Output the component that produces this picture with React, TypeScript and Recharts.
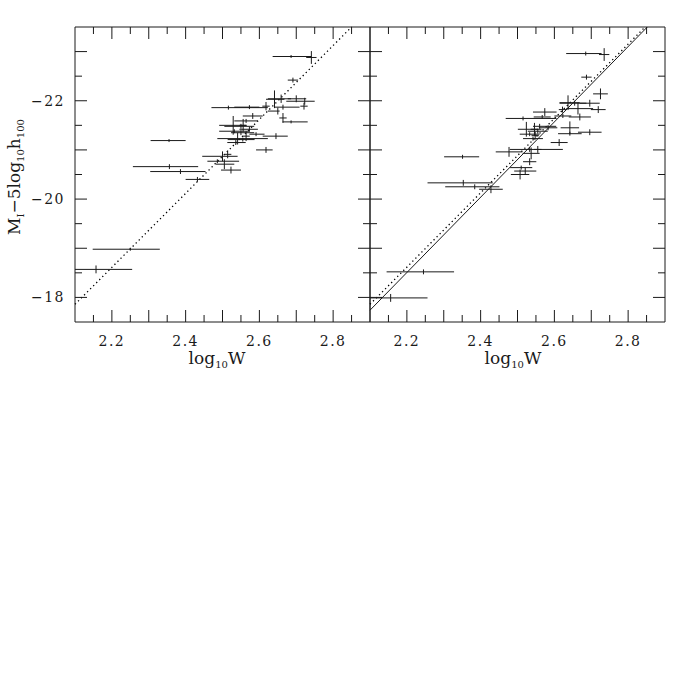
import { ErrorBar, ReferenceArea, ReferenceLine, Scatter, ScatterChart, XAxis, YAxis } from 'recharts'

// [log10 W, magnitude, x error minus, x error plus, y error]
const leftPoints: number[][] = [
  [2.686, -22.9, 0.05, 0.055, 0.03],
  [2.741, -22.88, 0.014, 0.014, 0.13],
  [2.691, -22.42, 0.014, 0.014, 0.05],
  [2.641, -22.03, 0.023, 0.027, 0.18],
  [2.659, -22.04, 0.036, 0.027, 0.085],
  [2.7, -22.04, 0.023, 0.027, 0.07],
  [2.723, -21.99, 0.05, 0.027, 0.07],
  [2.721, -21.89, 0.01, 0.01, 0.07],
  [2.664, -21.87, 0.023, 0.045, 0.05],
  [2.516, -21.86, 0.046, 0.107, 0.04],
  [2.573, -21.87, 0.041, 0.027, 0.04],
  [2.618, -21.89, 0.01, 0.01, 0.085],
  [2.65, -21.79, 0.027, 0.005, 0.07],
  [2.582, -21.69, 0.027, 0.027, 0.06],
  [2.664, -21.65, 0.01, 0.01, 0.1],
  [2.686, -21.57, 0.023, 0.045, 0.03],
  [2.564, -21.59, 0.032, 0.032, 0.04],
  [2.529, -21.5, 0.038, 0.035, 0.19],
  [2.55, -21.48, 0.045, 0.036, 0.05],
  [2.556, -21.5, 0.01, 0.01, 0.13],
  [2.573, -21.42, 0.027, 0.023, 0.05],
  [2.532, -21.38, 0.041, 0.041, 0.04],
  [2.55, -21.35, 0.027, 0.036, 0.05],
  [2.564, -21.28, 0.01, 0.01, 0.1],
  [2.591, -21.32, 0.018, 0.023, 0.04],
  [2.541, -21.23, 0.055, 0.082, 0.12],
  [2.555, -21.21, 0.041, 0.032, 0.04],
  [2.536, -21.15, 0.023, 0.027, 0.05],
  [2.645, -21.28, 0.036, 0.032, 0.06],
  [2.618, -21.0, 0.027, 0.018, 0.06],
  [2.355, -21.19, 0.05, 0.045, 0.03],
  [2.5, -20.87, 0.055, 0.041, 0.1],
  [2.514, -20.91, 0.01, 0.01, 0.08],
  [2.486, -20.77, 0.027, 0.059, 0.04],
  [2.505, -20.71, 0.023, 0.027, 0.1],
  [2.523, -20.59, 0.027, 0.027, 0.07],
  [2.356, -20.66, 0.099, 0.078, 0.05],
  [2.386, -20.56, 0.082, 0.068, 0.05],
  [2.432, -20.4, 0.032, 0.032, 0.05],
  [2.25, -18.98, 0.102, 0.08, 0.03],
  [2.157, -18.57, 0.057, 0.098, 0.08],
]

const rightPoints: number[][] = [
  [2.685, -22.96, 0.053, 0.043, 0.04],
  [2.735, -22.94, 0.014, 0.014, 0.13],
  [2.687, -22.48, 0.014, 0.014, 0.05],
  [2.725, -22.14, 0.02, 0.02, 0.11],
  [2.637, -21.96, 0.023, 0.032, 0.15],
  [2.655, -21.95, 0.041, 0.032, 0.05],
  [2.696, -21.95, 0.027, 0.027, 0.07],
  [2.719, -21.82, 0.02, 0.02, 0.07],
  [2.664, -21.84, 0.032, 0.041, 0.12],
  [2.622, -21.82, 0.01, 0.01, 0.06],
  [2.574, -21.77, 0.032, 0.032, 0.08],
  [2.515, -21.64, 0.047, 0.091, 0.04],
  [2.567, -21.67, 0.023, 0.023, 0.04],
  [2.669, -21.67, 0.03, 0.03, 0.07],
  [2.623, -21.69, 0.023, 0.023, 0.04],
  [2.524, -21.42, 0.023, 0.041, 0.15],
  [2.546, -21.42, 0.01, 0.01, 0.13],
  [2.555, -21.38, 0.027, 0.027, 0.05],
  [2.56, -21.48, 0.018, 0.045, 0.05],
  [2.583, -21.45, 0.025, 0.025, 0.05],
  [2.533, -21.32, 0.027, 0.027, 0.04],
  [2.548, -21.29, 0.01, 0.01, 0.08],
  [2.542, -21.23, 0.027, 0.027, 0.04],
  [2.642, -21.45, 0.025, 0.025, 0.13],
  [2.642, -21.33, 0.032, 0.032, 0.04],
  [2.696, -21.36, 0.032, 0.032, 0.06],
  [2.613, -21.15, 0.023, 0.023, 0.07],
  [2.533, -21.01, 0.054, 0.09, 0.05],
  [2.477, -20.96, 0.036, 0.036, 0.1],
  [2.555, -21.01, 0.01, 0.01, 0.07],
  [2.537, -20.93, 0.023, 0.023, 0.12],
  [2.533, -20.76, 0.018, 0.018, 0.07],
  [2.51, -20.64, 0.03, 0.03, 0.04],
  [2.521, -20.57, 0.03, 0.03, 0.07],
  [2.507, -20.5, 0.025, 0.025, 0.1],
  [2.351, -20.86, 0.05, 0.045, 0.04],
  [2.353, -20.33, 0.097, 0.08, 0.06],
  [2.384, -20.25, 0.08, 0.067, 0.05],
  [2.428, -20.2, 0.032, 0.032, 0.08],
  [2.245, -18.52, 0.1, 0.083, 0.05],
  [2.156, -17.99, 0.056, 0.1, 0.08],
]

// fit line end points
const leftDotted = [
  { x: 2.1, y: -17.86 },
  { x: 2.85, y: -23.5 },
]
const rightDotted = [
  { x: 2.1, y: -17.86 },
  { x: 2.846, y: -23.5 },
]
const rightSolid = [
  { x: 2.1, y: -17.74 },
  { x: 2.852, y: -23.5 },
]

const xDomain = [2.1, 2.9]
const yDomain = [-23.5, -17.5]
const xTicks = [2.15, 2.2, 2.25, 2.3, 2.35, 2.4, 2.45, 2.5, 2.55, 2.6, 2.65, 2.7, 2.75, 2.8, 2.85]
const yTicks = [-23, -22.5, -22, -21.5, -21, -20.5, -20, -19.5, -19, -18.5, -18]

const PLOT = 295
const INK = '#1a1a1a'
const FONT = '"DejaVu Serif", serif'

const toRows = (pts: number[][]) =>
  pts.map(([x, y, exm, exp, ey]) => ({ x, y, ex: [exm, exp], ey }))

const NoDot = () => <g />

function XTick(props: any) {
  const { x, y, payload } = props
  const v = payload.value as number
  const h = Math.round(v * 100)
  const len = h % 10 === 0 ? 12 : 7
  return (
    <g>
      <line x1={x} y1={y} x2={x} y2={y - len} stroke={INK} />
      <line x1={x} y1={y - PLOT} x2={x} y2={y - PLOT + len} stroke={INK} />
      {h % 20 === 0 && (
        <text x={x} y={y + 19} textAnchor="middle" dominantBaseline="central" fontSize={14}
          fontFamily={FONT} letterSpacing={1.5} fill={INK}>
          {v.toFixed(1)}
        </text>
      )}
    </g>
  )
}

function YTick(props: any) {
  const { x, y, payload, showLabel } = props
  const v = payload.value as number
  const t = Math.round(v * 10)
  const major = t % 10 === 0
  const len = major ? 12 : 7
  return (
    <g>
      <line x1={x} y1={y} x2={x + len} y2={y} stroke={INK} />
      <line x1={x + PLOT} y1={y} x2={x + PLOT - len} y2={y} stroke={INK} />
      {showLabel && major && t % 20 === 0 && (
        <text x={x - 10} y={y} textAnchor="end" dominantBaseline="central" fontSize={14}
          fontFamily={FONT} letterSpacing={1.5} fill={INK}>
          {'\u2212' + Math.abs(v)}
        </text>
      )}
    </g>
  )
}

function Panel({
  points,
  lines,
  width,
  margin,
  yWidth,
  showYLabels,
}: {
  points: number[][]
  lines: { seg: { x: number; y: number }[]; dash?: string }[]
  width: number
  margin: { top: number; right: number; bottom: number; left: number }
  yWidth: number
  showYLabels: boolean
}) {
  return (
    <ScatterChart width={width} height={400} margin={margin}>
      <XAxis type="number" dataKey="x" domain={xDomain} ticks={xTicks} interval={0} height={30}
        axisLine={false} tickLine={false} tickSize={0} tickMargin={0} allowDataOverflow
        tick={(p: any) => <XTick {...p} />} />
      <YAxis type="number" dataKey="y" domain={yDomain} ticks={yTicks} interval={0} reversed
        width={yWidth} axisLine={false} tickLine={false} tickSize={0} tickMargin={0} allowDataOverflow
        tick={(p: any) => <YTick {...p} showLabel={showYLabels} />} />
      <ReferenceArea x1={2.1} x2={2.9} y1={-23.5} y2={-17.5} fill="none" stroke={INK} strokeWidth={1} />
      {lines.map((l, i) => (
        <ReferenceLine key={i} segment={l.seg} stroke={l.dash ? '#000' : INK}
          strokeWidth={l.dash ? 1.3 : 1} strokeDasharray={l.dash} />
      ))}
      <Scatter data={toRows(points)} shape={NoDot} isAnimationActive={false}>
        <ErrorBar dataKey="ex" direction="x" width={0} stroke={INK} strokeWidth={1} isAnimationActive={false} />
        <ErrorBar dataKey="ey" direction="y" width={0} stroke={INK} strokeWidth={1} isAnimationActive={false} />
      </Scatter>
    </ScatterChart>
  )
}

export default function App() {
  return (
    <div style={{ position: 'absolute', left: 0, top: 0, width: 692, height: 692, background: '#fff' }}>
      <div style={{ position: 'absolute', left: 0, top: 0 }}>
        <Panel points={leftPoints} lines={[{ seg: leftDotted, dash: '1.3 3' }]} width={372}
          margin={{ top: 27, right: 2, bottom: 48, left: 15 }} yWidth={60} showYLabels />
      </div>
      <div style={{ position: 'absolute', left: 368, top: 0 }}>
        <Panel points={rightPoints}
          lines={[{ seg: rightDotted, dash: '1.3 3' }, { seg: rightSolid }]} width={324}
          margin={{ top: 27, right: 27, bottom: 48, left: 0 }} yWidth={2} showYLabels={false} />
      </div>
      <svg width={692} height={692} style={{ position: 'absolute', left: 0, top: 0, pointerEvents: 'none' }}>
        <g fontFamily={FONT} fill={INK} fontSize={17}>
          <text transform="translate(20,177) rotate(-90)" textAnchor="middle">
            M<tspan dy={4} fontSize={10}>I</tspan>
            <tspan dy={-4}>{'\u22125log'}</tspan>
            <tspan dy={4} fontSize={10}>10</tspan>
            <tspan dy={-4}>h</tspan>
            <tspan dy={4} fontSize={10}>100</tspan>
          </text>
          <text x={217} y={364} textAnchor="middle">
            log<tspan dy={4} fontSize={10}>10</tspan>
            <tspan dy={-4}>W</tspan>
          </text>
          <text x={513} y={364} textAnchor="middle">
            log<tspan dy={4} fontSize={10}>10</tspan>
            <tspan dy={-4}>W</tspan>
          </text>
        </g>
      </svg>
    </div>
  )
}
